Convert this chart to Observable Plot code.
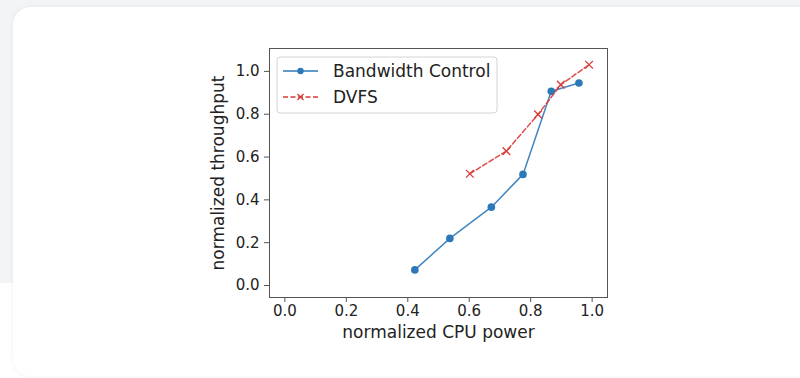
<!DOCTYPE html>
<html><head><meta charset="utf-8">
<script src="https://cdn.jsdelivr.net/npm/d3@7"></script>
<script src="https://cdn.jsdelivr.net/npm/@observablehq/plot@0.6"></script>
<style>
html,body{margin:0;padding:0;width:800px;height:378px;overflow:hidden;background:#fff;}
#bg{position:absolute;left:0;top:0;width:800px;height:283px;background:#f3f4f6;}
#card{position:absolute;left:13px;top:7px;width:812px;height:369px;background:#fff;border-radius:18px;box-shadow:0 0 5px rgba(0,0,0,0.06);}
#chart{position:absolute;left:0;top:0;}
</style></head><body>
<div id="bg"></div><div id="card"></div><div id="chart"></div>
<script>
const xTicks = [0.0, 0.2, 0.4, 0.6, 0.8, 1.0];
const yTicks = [0.0, 0.2, 0.4, 0.6, 0.8, 1.0];
const seriesNames = ["Bandwidth Control", "DVFS"];
const xLabel = "normalized CPU power";
const yLabel = "normalized throughput";
const bwPower = [0.423, 0.537, 0.672, 0.775, 0.867, 0.957];
const bwThroughput = [0.073, 0.220, 0.366, 0.519, 0.907, 0.946];
const dvfsPower = [0.602, 0.721, 0.824, 0.898, 0.990];
const dvfsThroughput = [0.522, 0.628, 0.799, 0.938, 1.031];

const bw = bwPower.map((x, i) => ({x, y: bwThroughput[i]}));
const dvfs = dvfsPower.map((x, i) => ({x, y: dvfsThroughput[i]}));
const blue = "#2c79b9", red = "#d83a36";

const plot = Plot.plot({
  width: 800, height: 378,
  marginLeft: 269, marginRight: 193, marginTop: 48, marginBottom: 81,
  style: {fontFamily: "DejaVu Sans", background: "transparent", color: "#222"},
  x: {domain: [-0.05, 1.05]},
  y: {domain: [-0.056, 1.107]},
  marks: [
    Plot.axisX({ticks: xTicks, tickFormat: d3.format(".1f"), tickSize: 5, tickPadding: 3, fontSize: 15, label: null, stroke: "#555", fill: "#222"}),
    Plot.axisY({ticks: yTicks, tickFormat: d3.format(".1f"), tickSize: 5, tickPadding: 5, fontSize: 15, label: null, stroke: "#555", fill: "#222"}),
    Plot.text([xLabel], {frameAnchor: "bottom", dy: 35, lineAnchor: "middle", fontSize: 17, fill: "#222"}),
    Plot.text([yLabel], {frameAnchor: "left", dx: -51, rotate: -90, textAnchor: "middle", lineAnchor: "middle", fontSize: 17, fill: "#222"}),
    Plot.line(bw, {x: "x", y: "y", stroke: blue, strokeWidth: 1.5, strokeOpacity: 0.9}),
    Plot.dot(bw, {x: "x", y: "y", r: 3.8, fill: blue, stroke: "none"}),
    Plot.line(dvfs, {x: "x", y: "y", stroke: red, strokeWidth: 1.5, strokeDasharray: "5,2.5", strokeOpacity: 0.9}),
    Plot.dot(dvfs, {x: "x", y: "y", symbol: "times", r: 3.6, stroke: red, strokeWidth: 1.3}),
    Plot.frame({stroke: "#555", strokeWidth: 1})
  ]
});
document.getElementById("chart").appendChild(plot);

// legend (matplotlib-style box in the upper-left of the axes)
const svg = d3.select(plot);
const lg = svg.append("g").attr("font-family", "DejaVu Sans").attr("font-size", 17)
  .attr("fill", "#222").attr("text-anchor", "start");
lg.append("rect").attr("x", 277).attr("y", 57).attr("width", 220).attr("height", 56).attr("rx", 3)
  .attr("fill", "#fff").attr("fill-opacity", 0.85).attr("stroke", "#d4d4d4");
const rows = [
  {name: seriesNames[0], color: blue, dash: null, y: 71, marker: "dot"},
  {name: seriesNames[1], color: red, dash: "5,2.5", y: 97, marker: "x"}
];
for (const r of rows) {
  lg.append("line").attr("x1", 283).attr("x2", 318).attr("y1", r.y).attr("y2", r.y)
    .attr("stroke", r.color).attr("stroke-width", 1.5).attr("stroke-dasharray", r.dash);
  if (r.marker === "dot") {
    lg.append("circle").attr("cx", 300.5).attr("cy", r.y).attr("r", 3.2).attr("fill", r.color);
  } else {
    const s = 3;
    lg.append("path").attr("d", `M${300.5 - s},${r.y - s}L${300.5 + s},${r.y + s}M${300.5 - s},${r.y + s}L${300.5 + s},${r.y - s}`)
      .attr("stroke", r.color).attr("stroke-width", 1.3);
  }
  lg.append("text").attr("x", 333).attr("y", r.y).attr("dy", "0.35em").attr("text-anchor", "start").text(r.name);
}
</script>
</body></html>
